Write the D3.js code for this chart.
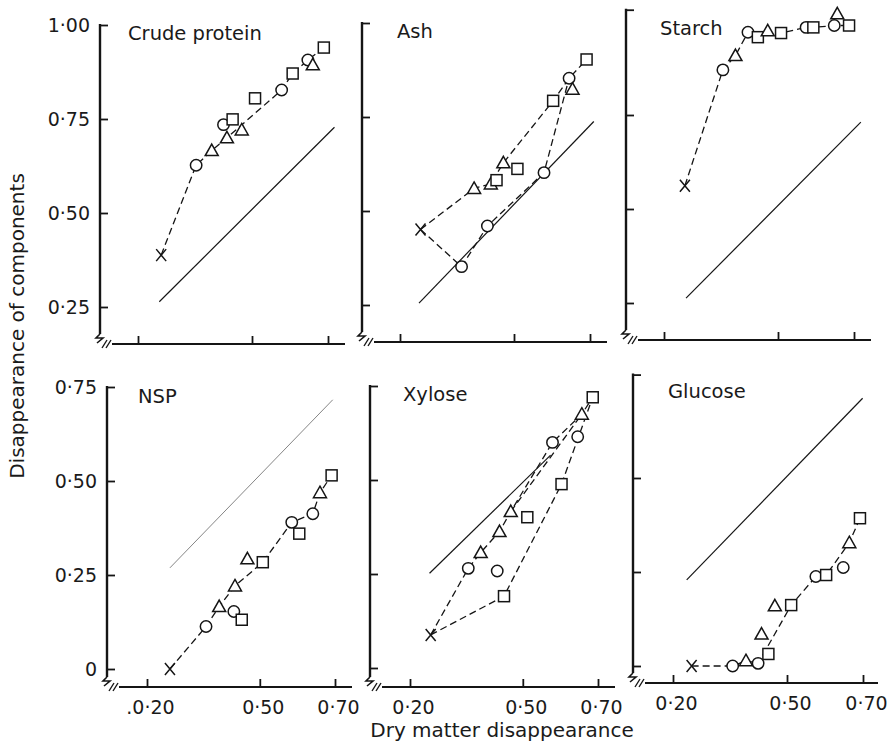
<!DOCTYPE html>
<html>
<head>
<meta charset="utf-8">
<title>Disappearance of components</title>
<script src="https://cdn.jsdelivr.net/npm/d3@7/dist/d3.min.js"></script>
<style>
  body { margin: 0; background: #fff; }
  svg text { font-family: "DejaVu Sans", "Liberation Sans", sans-serif; fill: #1a1a1a; }
</style>
</head>
<body>
<div id="plot"></div>
<script>
// Each point: [dry matter disappearance, component disappearance, symbol]
// symbol: x = start, o = circle, t = triangle, s = square
var crudeProtein = [
  [0.261, 0.388, "x"], [0.353, 0.627, "o"], [0.394, 0.666, "t"], [0.434, 0.700, "t"],
  [0.425, 0.735, "o"], [0.449, 0.749, "s"], [0.473, 0.721, "t"], [0.508, 0.805, "s"],
  [0.578, 0.827, "o"], [0.607, 0.871, "s"], [0.647, 0.907, "o"], [0.660, 0.894, "t"],
  [0.689, 0.940, "s"]
];
var crudeProteinPaths = [[0, 1, 2, 3, 8, 9, 10, 12]];
var crudeProteinLine = [[0.256, 0.264], [0.717, 0.728]];

var ash = [
  [0.254, 0.451, "x"], [0.362, 0.352, "o"], [0.430, 0.460, "o"], [0.579, 0.602, "o"],
  [0.645, 0.853, "o"], [0.654, 0.824, "t"], [0.691, 0.903, "s"], [0.395, 0.560, "t"],
  [0.439, 0.572, "t"], [0.454, 0.582, "s"], [0.472, 0.628, "t"], [0.509, 0.612, "s"],
  [0.603, 0.793, "s"]
];
var ashPaths = [[0, 7, 8, 10, 12, 4, 6], [0, 1, 2, 3, 4]];
var ashLine = [[0.250, 0.255], [0.710, 0.738]];

var starch = [
  [0.255, 0.562, "x"], [0.355, 0.870, "o"], [0.388, 0.908, "t"], [0.421, 0.970, "o"],
  [0.447, 0.957, "s"], [0.473, 0.974, "t"], [0.508, 0.968, "s"], [0.574, 0.983, "o"],
  [0.593, 0.983, "s"], [0.648, 0.988, "o"], [0.656, 1.019, "t"], [0.687, 0.988, "s"]
];
var starchPaths = [[0, 1, 2, 3, 4, 5, 6, 7, 8, 9, 11]];
var starchLine = [[0.258, 0.263], [0.718, 0.731]];

var nsp = [
  [0.261, 0.000, "x"], [0.357, 0.113, "o"], [0.392, 0.166, "t"], [0.431, 0.153, "o"],
  [0.452, 0.131, "s"], [0.434, 0.221, "t"], [0.467, 0.293, "t"], [0.508, 0.284, "s"],
  [0.585, 0.390, "o"], [0.605, 0.360, "s"], [0.641, 0.413, "o"], [0.660, 0.469, "t"],
  [0.691, 0.515, "s"]
];
var nspPaths = [[0, 1, 2, 5, 7, 8, 10, 11, 12]];
var nspLine = [[0.261, 0.269], [0.694, 0.716]];

var xylose = [
  [0.255, 0.088, "x"], [0.355, 0.265, "o"], [0.388, 0.307, "t"], [0.438, 0.363, "t"],
  [0.468, 0.416, "t"], [0.512, 0.401, "s"], [0.432, 0.258, "o"], [0.450, 0.191, "s"],
  [0.603, 0.489, "s"], [0.579, 0.600, "o"], [0.646, 0.615, "o"], [0.657, 0.675, "t"],
  [0.686, 0.720, "s"]
];
var xylosePaths = [[0, 1, 2, 3, 4, 9, 11, 12], [4, 11], [0, 7, 8, 12]];
var xyloseLine = [[0.252, 0.252], [0.574, 0.566]];

var glucose = [
  [0.249, 0.000, "x"], [0.357, 0.000, "o"], [0.392, 0.014, "t"], [0.424, 0.007, "o"],
  [0.451, 0.032, "s"], [0.433, 0.085, "t"], [0.468, 0.160, "t"], [0.511, 0.162, "s"],
  [0.576, 0.238, "o"], [0.603, 0.242, "s"], [0.648, 0.262, "o"], [0.664, 0.328, "t"],
  [0.692, 0.393, "s"]
];
var glucosePaths = [[0, 1, 2, 3, 7, 8, 9, 11, 12]];
var glucoseLine = [[0.236, 0.229], [0.699, 0.712]];

var panelNames = ["Crude protein", "Ash", "Starch", "NSP", "Xylose", "Glucose"];
var yTicksTop = [0.25, 0.50, 0.75, 1.00];
var yTickLabelsTop = ["0·25", "0·50", "0·75", "1·00"];
var yTicksBottom = [0, 0.25, 0.50, 0.75];
var yTickLabelsBottom = ["0", "0·25", "0·50", "0·75"];
var xTicks = [0.20, 0.50, 0.70];
var xTickLabels = ["0·20", "0·50", "0·70"];
var xTickLabelsNsp = [".0·20", "0·50", "0·70"];

function init() {
  var w = 892;
  var h = 745;
  var ink = "#151515";

  var svg = d3.select("#plot")
    .append("svg")
    .attr("width", w)
    .attr("height", h);

  // panel placement: ax = y-axis x, xy = x-axis y, lo = lowest y value, off = gap from x-axis to lo
  var panels = [
    {name: panelNames[0], pts: crudeProtein, paths: crudeProteinPaths, line: crudeProteinLine,
     ax: 100, xy: 344, lo: 0.25, off: 37, top: 1.00, xpad: 38, xw: 190, tx: 128, ty: 40,
     yticks: yTicksTop, ylabels: yTickLabelsTop, xlabels: null},
    {name: panelNames[1], pts: ash, paths: ashPaths, line: ashLine,
     ax: 362, xy: 342, lo: 0.25, off: 37, top: 1.00, xpad: 38, xw: 190, tx: 397, ty: 38,
     yticks: yTicksTop, ylabels: null, xlabels: null},
    {name: panelNames[2], pts: starch, paths: starchPaths, line: starchLine,
     ax: 626, xy: 340, lo: 0.25, off: 37, top: 1.03, xpad: 38, xw: 190, tx: 660, ty: 35,
     yticks: [0.25, 0.50, 0.75], ylabels: null, xlabels: null},
    {name: panelNames[3], pts: nsp, paths: nspPaths, line: nspLine,
     ax: 107, xy: 687, lo: 0, off: 18, top: 0.75, xpad: 40, xw: 188, tx: 138, ty: 403,
     yticks: yTicksBottom, ylabels: yTickLabelsBottom, xlabels: xTickLabelsNsp, faint: true},
    {name: panelNames[4], pts: xylose, paths: xylosePaths, line: xyloseLine,
     ax: 370, xy: 687, lo: 0, off: 19, top: 0.75, xpad: 40, xw: 188, tx: 403, ty: 401,
     yticks: yTicksBottom, ylabels: null, xlabels: xTickLabels},
    {name: panelNames[5], pts: glucose, paths: glucosePaths, line: glucoseLine,
     ax: 633, xy: 683, lo: 0, off: 17, top: 0.775, xpad: 40, xw: 190, tx: 668, ty: 398,
     yticks: [0, 0.25, 0.50], ylabels: null, xlabels: xTickLabels}
  ];

  panels.forEach(function(p) {
    var xScale = d3.scaleLinear()
      .domain([0.20, 0.70])
      .range([p.ax + p.xpad, p.ax + p.xpad + p.xw]);
    var yScale = d3.scaleLinear()
      .domain([p.lo, p.lo + 0.75])
      .range([p.xy - p.off, p.xy - p.off - 282]);

    var g = svg.append("g");

    // y-axis (ticks point inwards, labels only on the left column)
    var yVals = p.yticks.indexOf(p.top) < 0 ? p.yticks.concat([p.top]) : p.yticks;
    var yAxis = d3.axisLeft(yScale)
      .tickValues(yVals)
      .tickSizeInner(-8)
      .tickSizeOuter(0)
      .tickPadding(10)
      .tickFormat(function(d) {
        if (!p.ylabels) return "";
        var i = p.yticks.indexOf(d);
        return i < 0 ? "" : p.ylabels[i];
      });
    var ya = g.append("g")
      .attr("transform", "translate(" + p.ax + ",0)")
      .call(yAxis);
    ya.select(".domain").remove();
    ya.selectAll("line").attr("stroke", ink).attr("stroke-width", 1.8);
    ya.selectAll("text").attr("font-size", 19).attr("fill", ink)
      .style("font-family", "'DejaVu Sans', sans-serif");
    g.append("line")
      .attr("x1", p.ax).attr("x2", p.ax)
      .attr("y1", yScale(p.top) - 1).attr("y2", p.xy - 10)
      .attr("stroke", ink).attr("stroke-width", 2.4);

    // x-axis
    var xAxis = d3.axisBottom(xScale)
      .tickValues(xTicks)
      .tickSizeInner(-8)
      .tickSizeOuter(0)
      .tickPadding(14)
      .tickFormat(function(d, i) { return p.xlabels ? p.xlabels[i] : ""; });
    var xa = g.append("g")
      .attr("transform", "translate(0," + p.xy + ")")
      .call(xAxis);
    xa.select(".domain").remove();
    xa.selectAll("line").attr("stroke", ink).attr("stroke-width", 1.8);
    xa.selectAll("text").attr("font-size", 19).attr("fill", ink).attr("dx", 3)
      .style("font-family", "'DejaVu Sans', sans-serif");
    g.append("line")
      .attr("x1", p.ax + 12).attr("x2", p.ax + 245)
      .attr("y1", p.xy).attr("y2", p.xy)
      .attr("stroke", ink).attr("stroke-width", 2.2);

    // axis break marks at the corner
    g.append("path")
      .attr("d", "M" + p.ax + "," + (p.xy - 10) + " l-4,4 l7,0 l-6,5")
      .attr("fill", "none").attr("stroke", ink).attr("stroke-width", 1.6);
    [4, 8].forEach(function(dx) {
      g.append("line")
        .attr("x1", p.ax + dx - 2).attr("y1", p.xy + 4)
        .attr("x2", p.ax + dx + 3).attr("y2", p.xy - 4)
        .attr("stroke", ink).attr("stroke-width", 1.4);
    });

    // panel title
    g.append("text")
      .attr("x", p.tx)
      .attr("y", p.ty)
      .attr("font-size", 19.5)
      .text(p.name);

    // 1:1 reference line
    g.append("line")
      .attr("x1", xScale(p.line[0][0])).attr("y1", yScale(p.line[0][1]))
      .attr("x2", xScale(p.line[1][0])).attr("y2", yScale(p.line[1][1]))
      .attr("stroke", p.faint ? "#777" : ink)
      .attr("stroke-width", p.faint ? 0.9 : 1.2);

    // dashed connecting lines
    var lineGen = d3.line()
      .x(function(i) { return xScale(p.pts[i][0]); })
      .y(function(i) { return yScale(p.pts[i][1]); });
    g.selectAll("path.dash")
      .data(p.paths)
      .enter()
      .append("path")
      .attr("class", "dash")
      .attr("d", lineGen)
      .attr("fill", "none")
      .attr("stroke", ink)
      .attr("stroke-width", 1.3)
      .attr("stroke-dasharray", "7,4");

    // markers
    var marks = g.selectAll("g.mark")
      .data(p.pts)
      .enter()
      .append("g")
      .attr("class", "mark")
      .attr("transform", function(d) {
        return "translate(" + xScale(d[0]) + "," + yScale(d[1]) + ")";
      });
    marks.each(function(d) {
      var m = d3.select(this);
      if (d[2] === "o") {
        m.append("circle").attr("r", 5.7);
      } else if (d[2] === "s") {
        m.append("rect").attr("x", -5.5).attr("y", -5.5).attr("width", 11).attr("height", 11);
      } else if (d[2] === "t") {
        m.append("path").attr("d", "M0,-6.5 L6.5,5 L-6.5,5 Z");
      } else {
        m.append("path").attr("d", "M-5,-6 L5,6 M5,-6 L-5,6");
      }
    });
    marks.selectAll("circle, rect, path")
      .attr("fill", "#fff")
      .attr("stroke", ink)
      .attr("stroke-width", 1.5);
  });

  // axis titles
  svg.append("text")
    .attr("text-anchor", "middle")
    .attr("transform", "rotate(-90)")
    .attr("x", -326)
    .attr("y", 24)
    .attr("font-size", 20)
    .text("Disappearance of components");

  svg.append("text")
    .attr("text-anchor", "middle")
    .attr("x", 502)
    .attr("y", 737)
    .attr("font-size", 20)
    .text("Dry matter disappearance");
}

window.onload = init;
</script>
</body>
</html>
